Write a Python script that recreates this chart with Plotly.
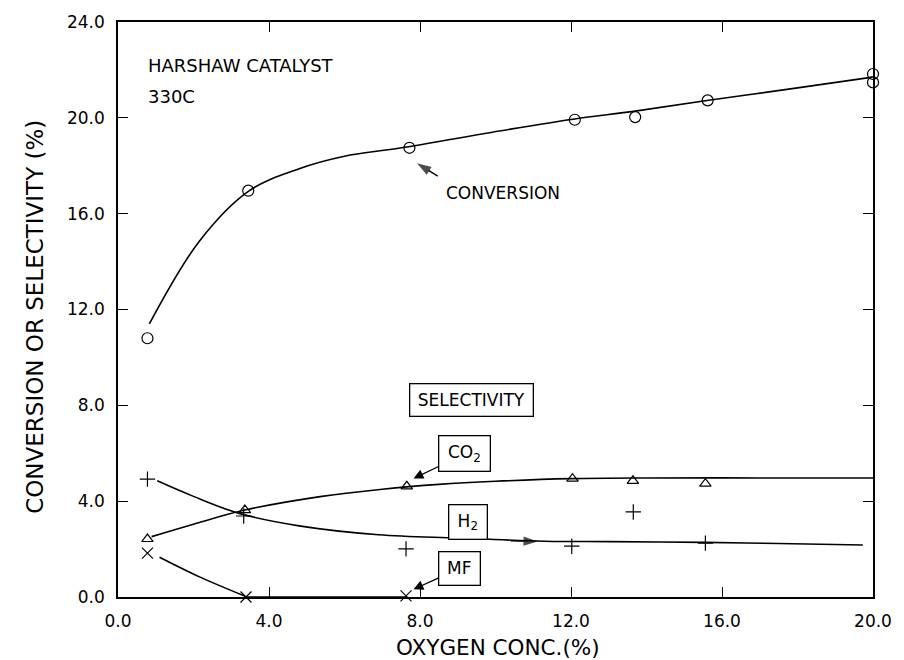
import plotly.graph_objects as go

# ---- data ----
x_conv = [0.78, 3.45, 7.72, 12.1, 13.7, 15.62, 20.0, 20.0]
y_conv = [10.8, 16.96, 18.75, 19.92, 20.03, 20.73, 21.83, 21.48]

x_co2 = [0.78, 3.36, 7.65, 12.04, 13.64, 15.56, 20.03]
y_co2 = [2.42, 3.63, 4.62, 4.94, 4.85, 4.73, 4.96]

x_h2 = [0.78, 3.33, 7.63, 12.02, 13.65, 15.56, 20.05]
y_h2 = [4.92, 3.38, 2.01, 2.12, 3.55, 2.25, 2.35]

x_mf = [0.78, 3.39, 7.63]
y_mf = [1.83, 0.0, 0.05]

# fitted curves
conv_fit_x = [0.83, 2.16, 3.48, 4.8, 6.0, 7.43, 10.4, 12.1, 13.7, 15.6, 18.0, 19.99]
conv_fit_y = [11.4, 14.86, 16.96, 17.88, 18.4, 18.73, 19.53, 19.95, 20.28, 20.72, 21.25, 21.7]

co2_fit_x = [0.89, 2.0, 3.36, 5.4, 7.0, 8.5, 10.0, 12.0, 14.0, 17.0, 20.0]
co2_fit_y = [2.52, 3.04, 3.63, 4.2, 4.5, 4.7, 4.83, 4.94, 4.97, 4.97, 4.97]

h2_fit_x = [1.04, 2.0, 3.21, 4.8, 6.9, 9.0, 11.3, 13.0, 15.55, 17.5, 19.73]
h2_fit_y = [4.85, 4.2, 3.49, 2.97, 2.6, 2.46, 2.33, 2.31, 2.28, 2.23, 2.17]

mf_fit_x = [1.1, 2.16, 3.37]
mf_fit_y = [1.66, 0.84, 0.03]
mf_flat_x = [3.37, 7.6]
mf_flat_y = [0.0, 0.0]

# pointer arrows (tail -> head)
conv_arrow_x = [8.47, 7.92]
conv_arrow_y = [17.57, 18.1]
h2_arrow_x = [10.4, 11.12]
h2_arrow_y = [2.35, 2.32]

x_ticks = [0, 4, 8, 12, 16, 20]
y_ticks = [0, 4, 8, 12, 16, 20, 24]

FONT = "DejaVu Sans"
BLACK = "black"

fig = go.Figure()

def fit(xs, ys):
    fig.add_trace(go.Scatter(x=xs, y=ys, mode="lines",
                             line=dict(color=BLACK, width=1.6, shape="spline", smoothing=1.0),
                             hoverinfo="skip"))

fit(conv_fit_x, conv_fit_y)
fit(co2_fit_x, co2_fit_y)
fit(h2_fit_x, h2_fit_y)
fit(mf_fit_x, mf_fit_y)
fig.add_trace(go.Scatter(x=mf_flat_x, y=mf_flat_y, mode="lines",
                         line=dict(color=BLACK, width=1.6)))

def pts(xs, ys, sym, size):
    fig.add_trace(go.Scatter(x=xs, y=ys, mode="markers", cliponaxis=False,
                             marker=dict(symbol=sym, size=size, color=BLACK,
                                         line=dict(color=BLACK, width=1.2))))

pts(x_conv, y_conv, "circle-open", 11)
pts(x_co2, y_co2, "triangle-up-open", 10)
pts(x_h2, y_h2, "cross-thin-open", 11)
pts(x_mf, y_mf, "x-thin-open", 11)

def pointer(xs, ys):
    fig.add_trace(go.Scatter(x=xs, y=ys, mode="lines+markers",
                             line=dict(color=BLACK, width=1.4),
                             marker=dict(symbol=["circle", "arrow"], size=[0, 15],
                                         angleref="previous", color=BLACK,
                                         line=dict(width=0))))

pointer(conv_arrow_x, conv_arrow_y)
pointer(h2_arrow_x, h2_arrow_y)

axis_common = dict(showline=True, linecolor=BLACK, linewidth=1.5, mirror="ticks",
                   ticks="inside", ticklen=10, tickwidth=1.3, tickcolor=BLACK,
                   showgrid=False, zeroline=False, tickformat=".1f",
                   ticklabelstandoff=8,
                   tickfont=dict(family=FONT, size=17, color=BLACK))

fig.update_xaxes(range=[0, 20], tickvals=x_ticks, **axis_common)
fig.update_yaxes(range=[0, 24], tickvals=y_ticks, **axis_common)

ann = []
ann.append(dict(x=0.73, y=22.19, xref="x", yref="y", text="HARSHAW CATALYST",
                showarrow=False, xanchor="left", yanchor="middle",
                font=dict(family=FONT, size=18, color=BLACK)))
ann.append(dict(x=0.73, y=20.91, xref="x", yref="y", text="330C",
                showarrow=False, xanchor="left", yanchor="middle",
                font=dict(family=FONT, size=18, color=BLACK)))
ann.append(dict(x=10.2, y=16.85, xref="x", yref="y", text="CONVERSION",
                showarrow=False, xanchor="center", yanchor="middle",
                font=dict(family=FONT, size=17, color=BLACK)))
ann.append(dict(x=9.37, y=8.21, xref="x", yref="y", text="SELECTIVITY",
                showarrow=False, xanchor="center", yanchor="middle",
                width=118, height=27, borderpad=2, bordercolor=BLACK, borderwidth=1.3,
                bgcolor="white", font=dict(family=FONT, size=17, color=BLACK)))
ann.append(dict(x=7.83, y=4.95, ax=9.19, ay=5.97, xref="x", yref="y", axref="x", ayref="y",
                text="CO<sub>2</sub>", showarrow=True, arrowhead=2, arrowsize=1.5,
                arrowwidth=1.3, arrowcolor=BLACK, standoff=0,
                width=46, height=30, borderpad=2, bordercolor=BLACK, borderwidth=1.3,
                bgcolor="white", font=dict(family=FONT, size=17, color=BLACK)))
ann.append(dict(x=9.28, y=3.11, xref="x", yref="y", text="H<sub>2</sub>",
                showarrow=False, xanchor="center", yanchor="middle",
                width=33, height=29, borderpad=2, bordercolor=BLACK, borderwidth=1.3,
                bgcolor="white", font=dict(family=FONT, size=17, color=BLACK)))
ann.append(dict(x=7.83, y=0.32, ax=9.05, ay=1.2, xref="x", yref="y", axref="x", ayref="y",
                text="MF", showarrow=True, arrowhead=2, arrowsize=1.5,
                arrowwidth=1.3, arrowcolor=BLACK, standoff=0,
                width=36, height=28, borderpad=2, bordercolor=BLACK, borderwidth=1.3,
                bgcolor="white", font=dict(family=FONT, size=17, color=BLACK)))
ann.append(dict(x=0.503, y=-0.0876, xref="paper", yref="paper", text="OXYGEN CONC.(%)",
                showarrow=False, xanchor="center", yanchor="middle",
                font=dict(family=FONT, size=21.5, color=BLACK)))
ann.append(dict(x=-0.1094, y=0.488, xref="paper", yref="paper",
                text="CONVERSION OR SELECTIVITY (%)", textangle=-90,
                showarrow=False, xanchor="center", yanchor="middle",
                font=dict(family=FONT, size=23, color=BLACK)))

fig.update_layout(width=904, height=660, margin=dict(l=118, r=27, t=15, b=63),
                  paper_bgcolor="white", plot_bgcolor="white", showlegend=False,
                  annotations=ann, font=dict(family=FONT, color=BLACK))

fig.write_html("out.html")
